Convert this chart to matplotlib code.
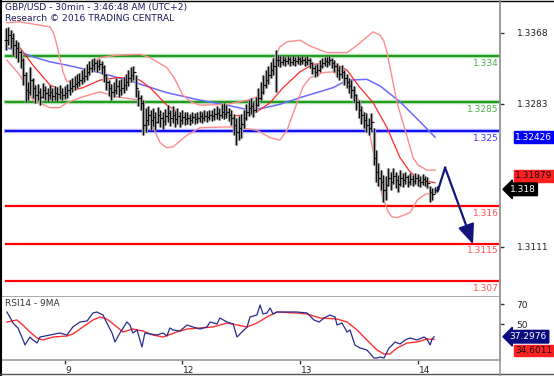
import matplotlib.pyplot as plt
import matplotlib.transforms as mtransforms
from matplotlib.lines import Line2D

# 30-min GBP/USD bars (high, low, close)
bar_high = [1.3374, 1.3375, 1.3371, 1.3368, 1.3359, 1.3357, 1.3347, 1.3338, 1.3321, 1.3309,
            1.3327, 1.3314, 1.3305, 1.3306, 1.3302, 1.3308, 1.3304, 1.3302, 1.3305, 1.3302,
            1.3304, 1.3303, 1.3305, 1.3302, 1.3304, 1.3306, 1.3311, 1.3314, 1.3316, 1.3318,
            1.3320, 1.3323, 1.3326, 1.3330, 1.3334, 1.3336, 1.3338, 1.3335, 1.3336, 1.3334,
            1.3329, 1.3318, 1.3311, 1.3306, 1.3309, 1.3314, 1.3311, 1.3312, 1.3315, 1.3318,
            1.3323, 1.3327, 1.3328, 1.3317, 1.3299, 1.3293, 1.3287, 1.3278, 1.3280, 1.3275,
            1.3278, 1.3273, 1.3279, 1.3275, 1.3273, 1.3276, 1.3281, 1.3275, 1.3280, 1.3274,
            1.3278, 1.3273, 1.3275, 1.3273, 1.3273, 1.3270, 1.3273, 1.3272, 1.3273, 1.3274,
            1.3273, 1.3275, 1.3274, 1.3275, 1.3275, 1.3278, 1.3280, 1.3278, 1.3282, 1.3284,
            1.3281, 1.3278, 1.3275, 1.3270, 1.3266, 1.3268, 1.3270, 1.3275, 1.3282, 1.3287,
            1.3290, 1.3285, 1.3291, 1.3302, 1.3309, 1.3317, 1.3323, 1.3328, 1.3333, 1.3338,
            1.3347, 1.3341, 1.3340, 1.3340, 1.3339, 1.3340, 1.3339, 1.3340, 1.3339, 1.3340,
            1.3339, 1.3340, 1.3339, 1.3340, 1.3338, 1.3333, 1.3329, 1.3330, 1.3335, 1.3338,
            1.3339, 1.3339, 1.3340, 1.3338, 1.3335, 1.3332, 1.3328, 1.3329, 1.3323, 1.3318,
            1.3314, 1.3311, 1.3304, 1.3294, 1.3287, 1.3280, 1.3273, 1.3272, 1.3266, 1.3272,
            1.3254, 1.3227, 1.3212, 1.3203, 1.3197, 1.3196, 1.3206, 1.3201, 1.3206, 1.3201,
            1.3197, 1.3203, 1.3200, 1.3201, 1.3197, 1.3200, 1.3197, 1.3200, 1.3198, 1.3196,
            1.3198, 1.3196, 1.3195, 1.3184, 1.3182, 1.3183, 1.3184]
bar_low = [1.3347, 1.3353, 1.3350, 1.3341, 1.3338, 1.3333, 1.3326, 1.3305, 1.3285, 1.3287,
           1.3293, 1.3290, 1.3284, 1.3287, 1.3281, 1.3290, 1.3287, 1.3286, 1.3288, 1.3286,
           1.3287, 1.3286, 1.3288, 1.3287, 1.3288, 1.3290, 1.3293, 1.3297, 1.3299, 1.3302,
           1.3304, 1.3306, 1.3309, 1.3311, 1.3317, 1.3321, 1.3323, 1.3321, 1.3323, 1.3318,
           1.3309, 1.3299, 1.3292, 1.3287, 1.3291, 1.3294, 1.3291, 1.3293, 1.3296, 1.3299,
           1.3304, 1.3309, 1.3311, 1.3291, 1.3280, 1.3275, 1.3245, 1.3249, 1.3257, 1.3251,
           1.3256, 1.3251, 1.3260, 1.3255, 1.3252, 1.3257, 1.3261, 1.3256, 1.3260, 1.3255,
           1.3258, 1.3255, 1.3258, 1.3257, 1.3258, 1.3257, 1.3260, 1.3258, 1.3260, 1.3261,
           1.3260, 1.3262, 1.3261, 1.3263, 1.3262, 1.3263, 1.3264, 1.3263, 1.3266, 1.3264,
           1.3266, 1.3262, 1.3257, 1.3245, 1.3233, 1.3239, 1.3242, 1.3254, 1.3263, 1.3268,
           1.3270, 1.3267, 1.3273, 1.3280, 1.3287, 1.3294, 1.3302, 1.3306, 1.3314, 1.3317,
           1.3297, 1.3328, 1.3327, 1.3329, 1.3328, 1.3330, 1.3328, 1.3329, 1.3328, 1.3330,
           1.3329, 1.3330, 1.3328, 1.3329, 1.3326, 1.3318, 1.3315, 1.3316, 1.3321, 1.3326,
           1.3328, 1.3327, 1.3329, 1.3326, 1.3321, 1.3315, 1.3311, 1.3314, 1.3305, 1.3302,
           1.3296, 1.3290, 1.3285, 1.3275, 1.3266, 1.3258, 1.3254, 1.3249, 1.3245, 1.3251,
           1.3209, 1.3189, 1.3184, 1.3179, 1.3165, 1.3167, 1.3184, 1.3179, 1.3186, 1.3182,
           1.3177, 1.3184, 1.3183, 1.3186, 1.3183, 1.3185, 1.3184, 1.3186, 1.3184, 1.3183,
           1.3185, 1.3184, 1.3182, 1.3165, 1.3167, 1.3176, 1.3177]
bar_close = [1.3359, 1.3365, 1.3362, 1.3353, 1.3350, 1.3345, 1.3335, 1.3317, 1.3299, 1.3297,
             1.3311, 1.3302, 1.3293, 1.3297, 1.3291, 1.3299, 1.3296, 1.3293, 1.3297, 1.3292,
             1.3296, 1.3294, 1.3297, 1.3293, 1.3296, 1.3299, 1.3302, 1.3304, 1.3306, 1.3309,
             1.3311, 1.3314, 1.3316, 1.3321, 1.3326, 1.3329, 1.3332, 1.3328, 1.3330, 1.3327,
             1.3317, 1.3309, 1.3302, 1.3297, 1.3299, 1.3304, 1.3299, 1.3302, 1.3305, 1.3309,
             1.3314, 1.3317, 1.3321, 1.3302, 1.3290, 1.3284, 1.3257, 1.3263, 1.3269, 1.3263,
             1.3267, 1.3261, 1.3269, 1.3266, 1.3262, 1.3268, 1.3272, 1.3266, 1.3269, 1.3264,
             1.3268, 1.3263, 1.3267, 1.3264, 1.3266, 1.3263, 1.3267, 1.3264, 1.3266, 1.3268,
             1.3266, 1.3268, 1.3267, 1.3269, 1.3268, 1.3270, 1.3272, 1.3269, 1.3273, 1.3270,
             1.3273, 1.3269, 1.3266, 1.3257, 1.3249, 1.3254, 1.3258, 1.3266, 1.3273, 1.3278,
             1.3280, 1.3275, 1.3281, 1.3290, 1.3297, 1.3305, 1.3311, 1.3317, 1.3323, 1.3328,
             1.3335, 1.3335, 1.3333, 1.3335, 1.3334, 1.3336, 1.3333, 1.3335, 1.3334, 1.3336,
             1.3334, 1.3335, 1.3333, 1.3335, 1.3332, 1.3326, 1.3321, 1.3323, 1.3328, 1.3332,
             1.3334, 1.3333, 1.3335, 1.3332, 1.3328, 1.3323, 1.3318, 1.3321, 1.3314, 1.3309,
             1.3304, 1.3299, 1.3293, 1.3285, 1.3275, 1.3269, 1.3263, 1.3257, 1.3254, 1.3261,
             1.3218, 1.3201, 1.3194, 1.3189, 1.3179, 1.3185, 1.3194, 1.3189, 1.3196, 1.3191,
             1.3186, 1.3194, 1.3191, 1.3195, 1.3189, 1.3192, 1.3190, 1.3194, 1.3191, 1.3189,
             1.3192, 1.3190, 1.3188, 1.3177, 1.3174, 1.3179, 1.3180]

# Bollinger bands and long moving average, sampled along the bar index
bb_t_up = [0.4, 5.7, 11.8, 18.0, 19.5, 20.8, 23.3, 24.9, 28.0, 31.4, 35.0, 38.4, 45.3, 54.7,
           58.8, 65.7, 69.0, 72.2, 75.5, 79.2, 90.2, 98.4, 102.4, 105.0, 107.8, 110.0, 111.8,
           114.7, 120.0, 124.1, 131.0, 139.2, 143.3, 149.8, 152.7, 154.2, 155.5, 157.5, 159.6,
           163.7, 166.1, 168.2, 171.8, 175.1]
bb_upper = [1.3380, 1.3381, 1.3378, 1.3375, 1.3367, 1.3353, 1.3321, 1.3309, 1.3312, 1.3321,
            1.3332, 1.3338, 1.3341, 1.3342, 1.3338, 1.3326, 1.3312, 1.3293, 1.3285, 1.3281,
            1.3282, 1.3287, 1.3291, 1.3305, 1.3323, 1.3340, 1.3351, 1.3357, 1.3359, 1.3352,
            1.3344, 1.3344, 1.3353, 1.3369, 1.3365, 1.3358, 1.3344, 1.3315, 1.3284, 1.3243,
            1.3218, 1.3209, 1.3203, 1.3203]
bb_t_mid = [0.4, 5.7, 11.0, 18.0, 24.9, 31.4, 38.4, 45.3, 51.8, 54.7, 58.8, 65.7, 72.2, 79.2,
            90.2, 98.4, 102.4, 107.8, 113.1, 120.0, 125.3, 133.5, 139.2, 144.5, 149.8, 155.5,
            160.8, 164.9, 169.0, 175.1]
bb_mid = [1.3359, 1.3350, 1.3329, 1.3305, 1.3297, 1.3302, 1.3311, 1.3314, 1.3314, 1.3311,
          1.3302, 1.3281, 1.3269, 1.3267, 1.3268, 1.3269, 1.3273, 1.3284, 1.3302, 1.3321,
          1.3330, 1.3332, 1.3323, 1.3302, 1.3284, 1.3254, 1.3218, 1.3201, 1.3191, 1.3188]
bb_t_low = [0.4, 5.7, 11.0, 18.0, 22.0, 24.9, 31.4, 38.4, 45.3, 54.7, 58.8, 62.9, 65.5, 68.2,
            73.9, 79.2, 92.7, 102.4, 107.8, 111.8, 114.7, 118.8, 121.2, 124.1, 129.4, 133.5,
            137.6, 143.3, 147.3, 150.6, 153.5, 155.9, 157.5, 159.6, 164.9, 167.8, 171.0, 175.1]
bb_lower = [1.3335, 1.3317, 1.3287, 1.3278, 1.3278, 1.3284, 1.3291, 1.3297, 1.3291, 1.3287,
            1.3263, 1.3236, 1.3230, 1.3231, 1.3245, 1.3254, 1.3255, 1.3251, 1.3242, 1.3239,
            1.3251, 1.3284, 1.3303, 1.3314, 1.3320, 1.3321, 1.3314, 1.3291, 1.3263, 1.3215,
            1.3173, 1.3153, 1.3147, 1.3146, 1.3152, 1.3167, 1.3174, 1.3176]
ma_t = [0.4, 5.7, 11.0, 18.0, 24.9, 38.4, 51.8, 65.7, 79.2, 90.2, 99.6, 105.7, 111.8, 120.0,
        133.5, 139.2, 147.3, 152.7, 160.8, 169.0, 175.1]
ma_vals = [1.3350, 1.3345, 1.3339, 1.3333, 1.3329, 1.3320, 1.3309, 1.3296, 1.3287, 1.3281,
           1.3275, 1.3278, 1.3282, 1.3290, 1.3302, 1.3311, 1.3312, 1.3304, 1.3285, 1.3261,
           1.32426]

# support / resistance levels
res_levels = [1.334, 1.3285]
res_labels = ['1.334', '1.3285']
pivot_level = 1.325
pivot_label = '1.325'
sup_levels = [1.316, 1.3115, 1.307]
sup_labels = ['1.316', '1.3115', '1.307']

# forecast path
fc_t = [176.3, 179.2, 190.6]
fc_p = [1.3179, 1.3206, 1.3114]

# RSI14 and its 9MA
rsi_t = [0.4, 1.6, 2.9, 4.9, 6.5, 7.8, 9.8, 11.0, 12.7, 13.9, 18.0, 22.0, 24.9, 27.3, 30.2,
         33.1, 35.5, 37.1, 39.6, 41.2, 43.3, 44.5, 46.5, 49.4, 50.6, 51.8, 53.5, 54.7, 55.5,
         56.7, 58.8, 61.6, 64.1, 65.7, 66.9, 68.2, 71.0, 73.9, 76.3, 79.2, 82.0, 83.3, 86.1,
         87.3, 90.2, 92.7, 94.3, 95.5, 98.4, 99.6, 102.4, 103.7, 104.9, 106.5, 107.8, 109.0,
         110.6, 114.7, 118.8, 122.9, 125.7, 127.8, 129.8, 132.2, 134.3, 135.1, 137.1, 139.2,
         140.4, 142.4, 144.5, 147.3, 150.2, 151.4, 152.7, 154.3, 156.3, 157.6, 158.8, 160.8,
         162.9, 164.9, 167.8, 170.6, 171.8, 173.1, 173.9, 174.7]
rsi_vals = [62, 57, 51, 46, 37, 29, 37, 34, 31, 37, 39, 41, 39, 47, 52, 53, 61, 62, 59, 51,
            41, 32, 41, 52, 49, 41, 44, 34, 27, 41, 40, 39, 41, 38, 46, 44, 43, 49, 47, 45,
            47, 52, 50, 56, 52, 50, 37, 40, 47, 57, 59, 69, 60, 61, 66, 60, 62, 62, 62, 61,
            54, 52, 56, 59, 57, 49, 51, 42, 44, 29, 26, 24, 16, 16, 17, 16, 26, 29, 32, 30,
            34, 36, 34, 37, 35, 29, 35, 37.2976]
rsi_ma_t = [0.4, 4.5, 6.9, 9.8, 12.7, 15.1, 19.2, 24.9, 27.3, 31.4, 35.5, 38.4, 41.2, 45.3,
            47.8, 51.8, 55.9, 60.0, 64.1, 69.8, 73.9, 79.2, 84.5, 90.2, 94.3, 98.4, 102.4,
            106.5, 110.6, 118.8, 122.9, 128.2, 135.1, 139.2, 143.3, 147.3, 151.4, 154.3, 156.7,
            159.6, 163.7, 167.8, 171.8, 174.7]
rsi_ma = [52, 54, 49, 42, 36, 34, 37, 38, 40, 47, 54, 57, 55, 47, 42, 45, 43, 39, 37, 42,
          45, 46, 47, 51, 49, 47, 51, 57, 62, 61, 60, 56, 55, 52, 44, 34, 24, 20, 20, 26,
          31, 32, 35, 34.6011]

price_ticks = [1.3368, 1.3283, 1.3111]
rsi_ticks = [70, 50]
day_ticks = [24, 72, 120, 168]
day_labels = ['9', '12', '13', '14']

W, H = 554, 376
fig = plt.figure(figsize=(W / 100, H / 100), dpi=100)
ax = fig.add_axes([2 / W, 1 - 297 / H, 498 / W, 297 / H])
rax = fig.add_axes([2 / W, 1 - 360 / H, 498 / W, 63 / H])

grey = '#9a9a9a'
for a in (ax, rax):
    for s in ('top', 'left'):
        a.spines[s].set_visible(False)
    a.spines['right'].set_color(grey)
    a.spines['bottom'].set_color(grey)
    a.spines['right'].set_linewidth(1.2)
    a.spines['bottom'].set_linewidth(1.2)
    a.set_xlim(-1.6, 201.6)
    a.yaxis.tick_right()
    a.tick_params(axis='y', length=3, width=1, color='#333333', pad=9,
                  labelsize=6.5, labelcolor='#222222')

ax.set_ylim(1.30508, 1.34072)
rax.set_ylim(14, 77)

# levels
for lv, lb in zip(res_levels, res_labels):
    ax.axhline(lv, xmin=0.008, color='#b8e0b8', lw=3.2, zorder=1)
    ax.axhline(lv, xmin=0.008, color='#1f9e1f', lw=1.5, zorder=2)
    ax.annotate(lb, (1, lv), xycoords=('axes fraction', 'data'), xytext=(-1, -2),
                textcoords='offset points', ha='right', va='top', fontsize=6.5, color='#4caf4c')
ax.axhline(pivot_level, xmin=0.008, color='#b8b8ff', lw=3.2, zorder=1)
ax.axhline(pivot_level, xmin=0.008, color='#1010ee', lw=1.5, zorder=2)
ax.annotate(pivot_label, (1, pivot_level), xycoords=('axes fraction', 'data'), xytext=(-1, -2),
            textcoords='offset points', ha='right', va='top', fontsize=6.5, color='#3a3aff')
for lv, lb in zip(sup_levels, sup_labels):
    ax.axhline(lv, xmin=0.008, color='#ff0000', lw=1.6, zorder=2)
    ax.annotate(lb, (1, lv), xycoords=('axes fraction', 'data'), xytext=(-1, -2),
                textcoords='offset points', ha='right', va='top', fontsize=6.5, color='#ff5050')

# indicators
ax.plot(ma_t, ma_vals, color='#6a6aff', lw=1.1, zorder=3)
ax.plot(bb_t_up, bb_upper, color='#ff8c8c', lw=1.0, zorder=3)
ax.plot(bb_t_low, bb_lower, color='#ff8c8c', lw=1.0, zorder=3)
ax.plot(bb_t_mid, bb_mid, color='#ff2a2a', lw=0.9, zorder=3)

# price bars
idx = list(range(len(bar_close)))
bar_open = [bar_close[0]] + bar_close[:-1]
ax.vlines(idx, bar_low, bar_high, color='#a0a0a0', lw=2.4, zorder=4)
ax.vlines(idx, bar_low, bar_high, color='#111111', lw=0.8, zorder=5)
ax.hlines(bar_open, [i - 0.7 for i in idx], idx, color='#111111', lw=0.8, zorder=5)
ax.hlines(bar_close, idx, [i + 0.7 for i in idx], color='#111111', lw=0.8, zorder=5)

# forecast arrow
ax.plot(fc_t[:2], fc_p[:2], color='#14147a', lw=1.6, zorder=6)
ax.annotate('', xy=(fc_t[2], fc_p[2]), xytext=(fc_t[1], fc_p[1]),
            arrowprops=dict(arrowstyle='-|>,head_length=1.2,head_width=0.5',
                            color='#14147a', lw=1.6, shrinkA=0, shrinkB=0), zorder=6)

ax.set_yticks(price_ticks)
ax.set_yticklabels([f'{v:.4f}' for v in price_ticks])
ax.set_xticks([])

# right-side value tags
tr = mtransforms.blended_transform_factory(ax.transAxes, ax.transData)
ax.annotate(f'{ma_vals[-1]:.5f}', (1, ma_vals[-1]), xycoords=tr, xytext=(11, 0),
            textcoords='offset points', va='center', fontsize=6.5, color='white',
            bbox=dict(boxstyle='square,pad=0.15', fc='#0000ff', ec='#0000ff'))
ax.annotate('1.31879', (1, bb_mid[-1]), xycoords=tr, xytext=(11, 5),
            textcoords='offset points', va='center', fontsize=6.5, color='#111111',
            bbox=dict(boxstyle='square,pad=0.15', fc='#ff2020', ec='#ff2020'))
ax.annotate(f'{bar_close[-1]:.3f}', (1, bar_close[-1]), xycoords=tr, xytext=(7, 0),
            textcoords='offset points', va='center', fontsize=6.5, color='white',
            bbox=dict(boxstyle='larrow,pad=0.2', fc='#000000', ec='#000000'))

# RSI panel
rax.plot(rsi_ma_t, rsi_ma, color='#ff3030', lw=1.0)
rax.plot(rsi_t, rsi_vals, color='#2a2a8f', lw=0.9)
rax.set_yticks(rsi_ticks)
rax.set_yticklabels([str(v) for v in rsi_ticks])
rax.set_xticks(day_ticks)
rax.set_xticklabels(day_labels, ha='left')
rax.tick_params(axis='x', length=3, width=1, color='#333333', pad=1,
                labelsize=6.5, labelcolor='#222222')
for lab in rax.get_xticklabels():
    lab.set_transform(lab.get_transform() + mtransforms.ScaledTranslation(1 / 100, 0, fig.dpi_scale_trans))
rtr = mtransforms.blended_transform_factory(rax.transAxes, rax.transData)
rax.annotate(f'{rsi_vals[-1]:.4f}', (1, rsi_vals[-1]), xycoords=rtr, xytext=(7, 0),
             textcoords='offset points', va='center', fontsize=6.5, color='white',
             bbox=dict(boxstyle='larrow,pad=0.2', fc='#0a0a80', ec='#0a0a80'))
rax.annotate(f'{rsi_ma[-1]:.4f}', (1, rsi_ma[-1]), xycoords=rtr, xytext=(11, -8),
             textcoords='offset points', va='center', fontsize=6.5, color='#111111',
             bbox=dict(boxstyle='square,pad=0.15', fc='#ff2020', ec='#ff2020'))
rax.text(0.006, 0.97, 'RSI14 - 9MA', transform=rax.transAxes, ha='left', va='top',
         fontsize=6.5, color='#333333')

# titles
fig.text(5 / W, 1 - 3 / H, 'GBP/USD - 30min - 3:46:48 AM (UTC+2)', ha='left', va='top',
         fontsize=6.6, color='#1c1c5a')
fig.text(5 / W, 1 - 14 / H, 'Research \u00a9 2016 TRADING CENTRAL', ha='left', va='top',
         fontsize=6.6, color='#1c1c5a')

# frame
fig.add_artist(Line2D([0.5 / W, 0.5 / W], [0, 1], transform=fig.transFigure, color='black', lw=1.5))
fig.add_artist(Line2D([0, 1], [1 - 0.5 / H, 1 - 0.5 / H], transform=fig.transFigure, color='black', lw=1))
fig.add_artist(Line2D([0, 1], [1 - 374 / H, 1 - 374 / H], transform=fig.transFigure, color='#555555', lw=1))
fig.add_artist(Line2D([500 / W, 500 / W], [1 - 376 / H, 1], transform=fig.transFigure, color=grey, lw=1.2))

fig.savefig('out.png', dpi=100)
